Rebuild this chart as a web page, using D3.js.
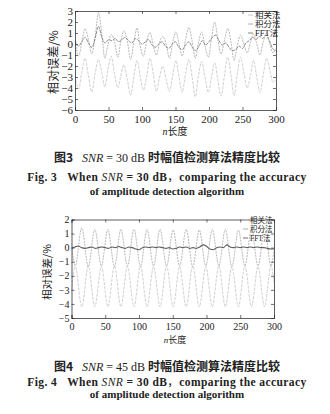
<!DOCTYPE html>
<html><head><meta charset="utf-8">
<script src="https://cdn.jsdelivr.net/npm/d3@7"></script>
<style>
html,body{margin:0;padding:0;background:#fff;}
svg{display:block;}
.cap2{letter-spacing:0.42px;}
</style></head>
<body>
<svg id="chart" width="330" height="414"></svg>
<script>
// ---------- data ----------
const seriesNames = ["相关法", "积分法", "FFT法"];
const xTicks = [0, 50, 100, 150, 200, 250, 300];
const yTicks1 = [3, 2, 1, 0, -1, -2, -3, -4, -5, -6];
const yTicks2 = [2, 1, 0, -1, -2, -3, -4, -5];

// Fig.3 (SNR=30 dB)
const fig3IntX = [0,5.5,10,15,20,25,30,35,40,44.5,49,54,59,64,68,73,78,83,88,92.5,97,102,107,112,117,121.5,126,131,136,141,146,150.5,155,160,165,170,175,179.5,184,189,194,199,204,208.5,213,218,223,228,233,237.5,242,247,252,257,262,266.5,271,276,281,286,291,295.5,300];
const fig3IntY = [0.3,-1.1,0.1,1.4,0.4,-0.9,0.6,2.85,0.9,-1.3,-0.1,0.85,0.2,-1.2,0.1,1.2,0.3,-1.4,0.2,1.45,-0.1,-1.1,0.3,1.05,-0.2,-1.0,0.1,0.7,0.0,-1.3,0.2,1.1,0.1,-1.1,0.4,1.5,0.2,-1.3,0.0,1.1,-0.2,-1.2,0.6,2.0,0.5,-0.9,0.3,1.4,0.1,-1.5,-0.2,0.8,0.0,-0.8,0.2,0.9,0.1,-1.0,0.2,1.0,0.0,-0.8,-0.4];
const fig3CorX = fig3IntX;
const fig3CorY = [-2.9,-4.1,-2.6,-1.3,-2.9,-4.35,-2.7,-1.4,-2.6,-3.9,-2.4,-1.1,-2.7,-4.0,-3.0,-1.9,-3.2,-4.65,-2.9,-1.5,-2.8,-4.2,-2.9,-1.3,-2.8,-4.3,-3.1,-2.0,-3.2,-4.3,-2.8,-1.5,-2.9,-4.4,-2.7,-1.4,-3.1,-4.8,-3.0,-1.6,-3.0,-4.4,-2.9,-1.7,-3.2,-4.75,-2.9,-1.2,-2.9,-4.7,-2.8,-1.2,-2.6,-4.0,-2.8,-1.5,-2.9,-4.4,-2.8,-1.3,-2.4,-3.5,-3.2];
const fig3FftX = [0,5,10,15,20,25,30,35,40,45,50,55,60,65,70,75,80,85,90,95,100,105,110,115,120,125,130,135,140,145,150,155,160,165,170,175,180,185,190,195,200,205,210,215,220,225,230,235,240,245,250,255,260,265,270,275,280,285,290,295,300];
const fig3FftY = [0.3,-0.2,0.2,0.6,0.1,-0.3,0.5,1.6,0.6,0.1,0.4,0.3,0.5,0.2,0.4,0.6,0.3,0.1,0.5,0.3,0.0,0.2,0.4,-0.1,-0.3,0.0,0.2,-0.2,-0.4,0.0,0.2,-0.3,-0.5,-0.1,0.2,-0.3,-0.6,-0.2,0.3,-0.1,0.2,0.6,0.8,0.3,-0.1,0.1,-0.3,-0.6,-0.5,-0.2,-0.4,0.1,0.3,0.6,0.4,0.7,0.5,0.8,0.3,-0.4,-0.6];

// Fig.4 (SNR=45 dB)
const fig4SineX = [0,5.5,15.2,24.9,34.5,44.2,53.9,63.6,73.2,82.9,92.6,102.2,111.9,121.6,131.2,140.9,150.6,160.2,169.9,179.6,189.3,198.9,208.6,218.3,227.9,237.6,247.3,256.9,266.6,276.3,286,295.6,300];
const fig4IntY = [0.3,-1.3,1.4,-1.35,1.3,-1.3,1.3,-1.35,1.3,-1.3,1.3,-1.35,1.3,-1.3,1.3,-1.3,1.25,-1.3,1.3,-1.35,1.25,-1.3,1.3,-1.3,1.3,-1.35,1.25,-1.3,1.3,-1.3,1.3,-1.3,-0.2];
const fig4CorY = [-3.1,-1.35,-4.2,-1.3,-4.2,-1.35,-4.2,-1.3,-4.2,-1.35,-4.2,-1.3,-4.2,-1.35,-4.2,-1.3,-4.2,-1.35,-4.2,-1.3,-4.2,-1.35,-4.2,-1.3,-4.2,-1.35,-4.2,-1.3,-4.2,-1.35,-4.2,-1.3,-2.5];
const fig4FftX = fig3FftX;
const fig4FftY = [-0.05,0.05,0.12,0.0,-0.05,0.0,0.05,-0.05,0.0,0.05,0.0,-0.05,0.05,0.0,0.08,0.0,-0.05,0.05,0.0,-0.1,-0.15,0.0,0.05,0.0,0.05,0.0,0.05,0.0,-0.05,0.0,-0.1,-0.05,0.05,0.0,0.05,-0.05,0.0,-0.05,0.05,0.2,0.1,-0.1,-0.15,0.0,0.05,0.0,0.2,0.05,0.0,0.05,0.0,0.05,0.0,0.05,0.0,0.05,0.0,0.0,-0.05,-0.1,-0.1];

// ---------- drawing ----------
const svg = d3.select("#chart");
const SERIF = "'Liberation Serif','Times New Roman',serif";
const CJK = "'Noto Sans CJK SC','Noto Sans CJK JP',sans-serif";

function zip(xs, ys) { return xs.map((x, i) => ({x: x, y: ys[i]})); }

function drawChart(cfg) {
  const g = svg.append("g");
  const x = d3.scaleLinear().domain([0, 300]).range([cfg.left, cfg.right]);
  const y = d3.scaleLinear().domain(cfg.yDomain).range([cfg.bottom, cfg.top]);
  const fs = cfg.fs;

  const clipId = "clip" + cfg.id;
  svg.append("clipPath").attr("id", clipId).append("rect")
    .attr("x", cfg.left).attr("y", cfg.top)
    .attr("width", cfg.right - cfg.left).attr("height", cfg.bottom - cfg.top);

  // series
  const line = d3.line().x(d => x(d.x)).y(d => y(d.y)).curve(d3.curveMonotoneX);
  const lg = g.append("g").attr("clip-path", `url(#${clipId})`);
  cfg.series.forEach((s, i) => {
    lg.append("path").datum(zip(s.xs, s.ys))
      .attr("d", line).attr("fill", "none")
      .attr("stroke", cfg.colors[i]).attr("stroke-width", cfg.widths[i])
      .attr("stroke-dasharray", cfg.dashes[i]);
  });

  // axes (inward ticks, boxed)
  const bottomAxis = d3.axisBottom(x).tickValues(xTicks).tickSize(-3).tickPadding(5).tickFormat(d3.format("d"));
  const leftAxis = d3.axisLeft(y).tickValues(cfg.yTicks).tickSize(-3).tickPadding(2)
    .tickFormat(d => d < 0 ? "\u2212" + Math.abs(d) : String(d));
  const topAxis = d3.axisTop(x).tickValues(xTicks).tickSize(-3).tickFormat("");
  const rightAxis = d3.axisRight(y).tickValues(cfg.yTicks).tickSize(-3).tickFormat("");

  const ax = [
    g.append("g").attr("transform", `translate(0,${cfg.bottom})`).call(bottomAxis),
    g.append("g").attr("transform", `translate(${cfg.left},0)`).call(leftAxis),
    g.append("g").attr("transform", `translate(0,${cfg.top})`).call(topAxis),
    g.append("g").attr("transform", `translate(${cfg.right},0)`).call(rightAxis)
  ];
  ax.forEach(a => {
    a.select(".domain").attr("stroke", "#333").attr("stroke-width", 0.8);
    a.selectAll(".tick line").attr("stroke", "#333").attr("stroke-width", 0.7);
    a.selectAll(".tick text").attr("font-family", SERIF).attr("font-size", fs).attr("fill", "#222");
  });

  // axis titles
  const xt = g.append("text").attr("x", cfg.xLabelX).attr("y", cfg.xLabelY)
    .attr("text-anchor", "middle").attr("font-size", fs - 1).attr("fill", "#222");
  xt.append("tspan").attr("font-family", SERIF).attr("font-style", "italic").text("n");
  xt.append("tspan").attr("font-family", CJK).text("长度");

  g.append("text").attr("transform", `translate(${cfg.yLabelX},${cfg.yLabelY}) rotate(-90)`)
    .attr("text-anchor", "middle").attr("dominant-baseline", "middle")
    .attr("font-family", CJK).attr("font-size", cfg.yLabelFs).attr("fill", "#222")
    .text("相对误差/%");

  // legend
  seriesNames.forEach((name, i) => {
    const ly = cfg.legY + i * cfg.legStep;
    g.append("line").attr("x1", cfg.legX - 7).attr("x2", cfg.legX - 2)
      .attr("y1", ly).attr("y2", ly).attr("stroke", cfg.colors[i]).attr("stroke-width", 0.9);
    const t = g.append("text").attr("x", cfg.legX).attr("y", ly + cfg.legFs * 0.36)
      .attr("font-size", cfg.legFs).attr("fill", "#222");
    if (name.startsWith("FFT")) {
      t.append("tspan").attr("font-family", SERIF).text("FFT");
      t.append("tspan").attr("font-family", CJK).text("法");
    } else {
      t.attr("font-family", CJK).text(name);
    }
  });

  // captions
  const c1 = g.append("text").attr("x", cfg.capX).attr("y", cfg.capY[0])
    .attr("text-anchor", "middle").attr("font-size", 12).attr("fill", "#222");
  c1.append("tspan").attr("font-family", CJK).attr("font-weight", "bold").text("图" + cfg.figNo);
  c1.append("tspan").attr("font-family", SERIF).text("\u00a0\u00a0\u00a0");
  c1.append("tspan").attr("font-family", SERIF).attr("font-style", "italic").text("SNR");
  c1.append("tspan").attr("font-family", SERIF).text(" = " + cfg.snr + " dB ");
  c1.append("tspan").attr("font-family", CJK).attr("font-weight", "bold").text("时幅值检测算法精度比较");

  const c2 = g.append("text").attr("class", "cap2").attr("x", cfg.capX).attr("y", cfg.capY[1])
    .attr("text-anchor", "middle").attr("font-size", 11.5).attr("font-weight", "bold").attr("fill", "#222")
    .attr("font-family", SERIF);
  c2.append("tspan").text("Fig. " + cfg.figNo + "\u00a0\u00a0\u00a0When ");
  c2.append("tspan").attr("font-style", "italic").attr("font-weight", "normal").text("SNR");
  c2.append("tspan").text(" = 30 dB");
  c2.append("tspan").attr("font-family", CJK).attr("font-weight", "normal").text("，");
  c2.append("tspan").text("comparing the accuracy");

  g.append("text").attr("x", cfg.capX).attr("y", cfg.capY[2])
    .attr("text-anchor", "middle").attr("font-size", 11).attr("font-weight", "bold").attr("fill", "#222")
    .attr("font-family", SERIF).text("of amplitude detection algorithm");
}

drawChart({
  id: 1, figNo: "3", snr: "30",
  left: 75, right: 276, top: 11, bottom: 110,
  yDomain: [-6, 3], yTicks: yTicks1, fs: 11,
  colors: ["#c4c4c4", "#a6a6a6", "#7c7c7c"],
  widths: [0.8, 0.8, 0.9],
  dashes: ["3,1.2", "2,1", "3,1"],
  xLabelX: 175, xLabelY: 135,
  yLabelX: 55, yLabelY: 62, yLabelFs: 12,
  legX: 255, legY: 15, legStep: 9, legFs: 8.5,
  capX: 167, capY: [162, 181, 195],
  series: [
    {xs: fig3CorX, ys: fig3CorY},
    {xs: fig3IntX, ys: fig3IntY},
    {xs: fig3FftX, ys: fig3FftY}
  ]
});

drawChart({
  id: 2, figNo: "4", snr: "45",
  left: 71.5, right: 274, top: 219.5, bottom: 318,
  yDomain: [-5, 2], yTicks: yTicks2, fs: 10,
  colors: ["#c4c4c4", "#a6a6a6", "#5e5e5e"],
  widths: [0.8, 0.8, 1.1],
  dashes: ["3,1.2", "2,1", null],
  xLabelX: 175, xLabelY: 343,
  yLabelX: 48, yLabelY: 272, yLabelFs: 10.5,
  legX: 250, legY: 220, legStep: 9, legFs: 7.5,
  capX: 167, capY: [371, 386, 398],
  series: [
    {xs: fig4SineX, ys: fig4CorY},
    {xs: fig4SineX, ys: fig4IntY},
    {xs: fig4FftX, ys: fig4FftY}
  ]
});
</script>
</body></html>
